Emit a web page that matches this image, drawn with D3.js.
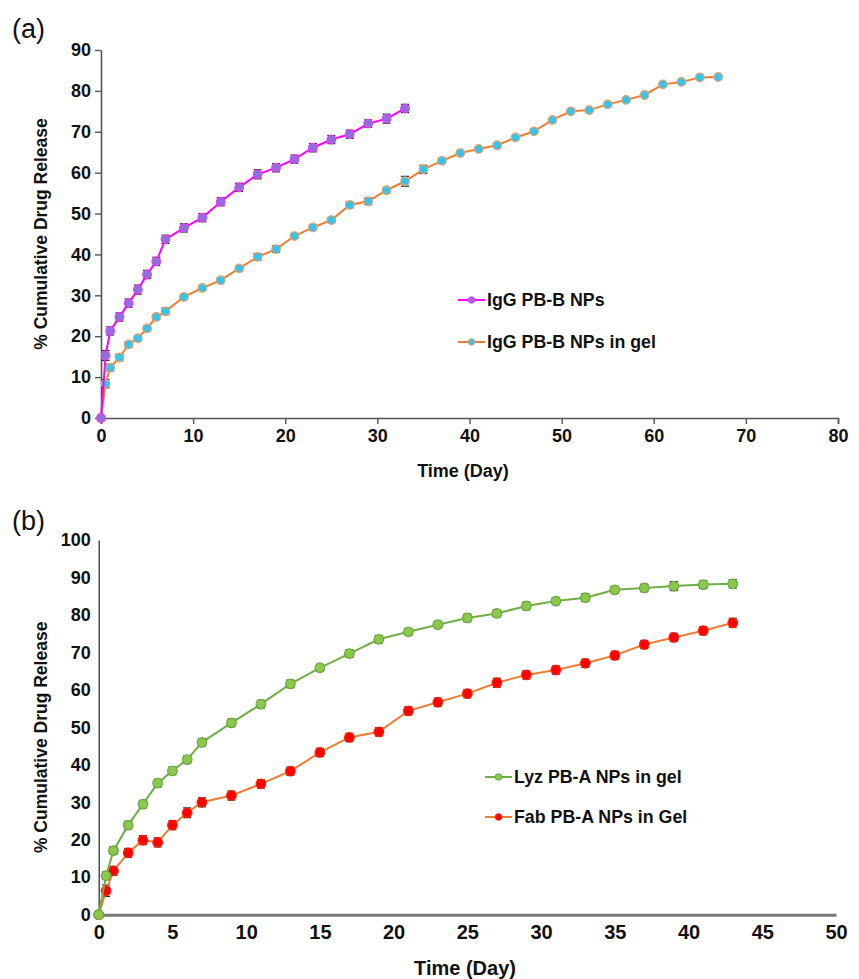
<!DOCTYPE html>
<html>
<head>
<meta charset="utf-8">
<script src="https://cdn.jsdelivr.net/npm/d3@7"></script>
<style>
  body { margin: 0; background: #fff; }
  text { font-family: "Liberation Sans", Arial, sans-serif; }
</style>
</head>
<body>
<svg id="chart" width="859" height="979"></svg>
<script>
// ---- panel (a) data ----
const daysIgG = [0, 0.5, 1, 2, 3, 4, 5, 6, 7, 9, 11, 13, 15, 17, 19, 21, 23, 25, 27, 29, 31, 33]
const igg = [0, 15.3, 21.3, 24.7, 28.1, 31.4, 35.1, 38.3, 43.7, 46.5, 49.0, 52.9, 56.4, 59.6, 61.2, 63.3, 66.1, 68.1, 69.4, 72.0, 73.2, 75.7]
const iggErr = [0, 1.2, 1.0, 1.0, 1.0, 1.1, 1.0, 1.0, 1.0, 1.0, 1.0, 1.0, 1.0, 1.1, 1.0, 1.0, 1.0, 1.0, 1.0, 0.9, 1.1, 1.0]

const daysIgGGel = [0, 0.5, 1, 2, 3, 4, 5, 6, 7, 9, 11, 13, 15, 17, 19, 21, 23, 25, 27, 29, 31, 33, 35, 37, 39, 41, 43, 45, 47, 49, 51, 53, 55, 57, 59, 61, 63, 65, 67]
const iggGel = [0, 8.4, 12.3, 14.8, 18.0, 19.5, 21.9, 24.7, 26.1, 29.6, 31.8, 33.7, 36.6, 39.4, 41.3, 44.5, 46.6, 48.4, 52.1, 53.0, 55.7, 57.9, 60.8, 62.9, 64.8, 65.8, 66.7, 68.6, 70.1, 72.9, 75.0, 75.3, 76.7, 77.8, 79.0, 81.6, 82.2, 83.3, 83.4]
const iggGelErr = [0, 1.0, 0.8, 0.8, 0.7, 0.6, 0.6, 0.6, 0.8, 0.6, 0.5, 0.5, 0.6, 0.8, 0.8, 0.5, 0.6, 0.6, 0.7, 0.8, 0.6, 1.2, 1.0, 0.6, 0.4, 0.4, 0.4, 0.4, 0.3, 0.3, 0.3, 0.3, 0.3, 0.3, 0.3, 0.3, 0.3, 0.3, 0.3]

// ---- panel (b) data ----
const daysB = [0, 0.5, 1, 2, 3, 4, 5, 6, 7, 9, 11, 13, 15, 17, 19, 21, 23, 25, 27, 29, 31, 33, 35, 37, 39, 41, 43]
const lyz = [0, 10.4, 17.1, 23.9, 29.5, 35.1, 38.4, 41.4, 46.0, 51.2, 56.2, 61.6, 65.9, 69.7, 73.5, 75.5, 77.4, 79.2, 80.4, 82.4, 83.7, 84.6, 86.7, 87.2, 87.7, 88.1, 88.3]
const lyzErr = [0, 1.0, 1.0, 1.0, 1.0, 1.0, 1.0, 1.0, 1.0, 1.0, 1.0, 1.0, 0.9, 1.0, 1.0, 0.9, 0.9, 1.0, 0.9, 1.0, 0.9, 1.0, 0.9, 1.0, 1.2, 1.0, 1.1]
const fab = [0, 6.4, 11.7, 16.5, 19.9, 19.3, 23.9, 27.2, 30.0, 31.8, 34.9, 38.3, 43.3, 47.3, 48.8, 54.4, 56.7, 59.0, 61.9, 64.0, 65.3, 67.1, 69.2, 72.1, 74.0, 75.8, 77.9]
const fabErr = [0, 1.5, 1.2, 1.2, 1.2, 1.2, 1.2, 1.3, 1.2, 1.2, 1.1, 1.1, 1.1, 1.1, 1.1, 1.1, 1.1, 1.1, 1.2, 1.1, 1.1, 1.1, 1.1, 1.1, 1.1, 1.1, 1.2]

const ticksA_x = [0, 10, 20, 30, 40, 50, 60, 70, 80]
const ticksA_y = [0, 10, 20, 30, 40, 50, 60, 70, 80, 90]
const ticksB_x = [0, 5, 10, 15, 20, 25, 30, 35, 40, 45, 50]
const ticksB_y = [0, 10, 20, 30, 40, 50, 60, 70, 80, 90, 100]

const svg = d3.select('#chart')
const bold = '"Liberation Sans", Arial, sans-serif'
const narrow = '"Liberation Sans Narrow", "Arial Narrow", sans-serif'

function zip (days, vals, errs) {
  return days.map((d, i) => ({ x: d, y: vals[i], e: errs[i] }))
}

function drawSeries (g, x, y, data, s) {
  const line = d3.line().x(d => x(d.x)).y(d => y(d.y))
  // error bars
  const eb = g.append('g')
  data.filter(d => d.e > 0).forEach(d => {
    eb.append('line')
      .attr('x1', x(d.x)).attr('x2', x(d.x))
      .attr('y1', y(d.y - d.e)).attr('y2', y(d.y + d.e))
      .attr('stroke', '#222').attr('stroke-width', 1.2)
    ;[d.y - d.e, d.y + d.e].forEach(v => {
      eb.append('line')
        .attr('x1', x(d.x) - 4).attr('x2', x(d.x) + 4)
        .attr('y1', y(v)).attr('y2', y(v))
        .attr('stroke', '#222').attr('stroke-width', 1.2)
    })
  })
  g.append('path')
    .datum(data)
    .attr('d', line)
    .attr('fill', 'none')
    .attr('stroke', s.line)
    .attr('stroke-width', 2)
  g.append('g').selectAll('circle')
    .data(data)
    .join('circle')
    .attr('cx', d => x(d.x))
    .attr('cy', d => y(d.y))
    .attr('r', s.r)
    .attr('fill', s.fill)
    .attr('stroke', s.stroke)
    .attr('stroke-width', 1.2)
}

function legendItem (g, lx, ly, label, s) {
  g.append('line')
    .attr('x1', lx).attr('x2', lx + 27).attr('y1', ly).attr('y2', ly)
    .attr('stroke', s.line).attr('stroke-width', 2)
  g.append('circle')
    .attr('cx', lx + 13.5).attr('cy', ly).attr('r', 3.3)
    .attr('fill', s.fill).attr('stroke', s.stroke).attr('stroke-width', 1)
  g.append('text')
    .attr('x', lx + 29).attr('y', ly + 6)
    .attr('font-family', bold).attr('font-weight', 'bold').attr('font-size', 17.8)
    .attr('fill', '#111')
    .text(label)
}

// ================= panel (a) =================
const xA = d3.scaleLinear().domain([0, 80]).range([101, 838])
const yA = d3.scaleLinear().domain([0, 90]).range([418, 50])
const gA = svg.append('g')

const axA_x = gA.append('g')
  .attr('transform', `translate(0,${yA(0)})`)
  .call(d3.axisBottom(xA).tickValues(ticksA_x).tickSize(6).tickSizeOuter(6).tickPadding(5))
const axA_y = gA.append('g')
  .attr('transform', `translate(${xA(0)},0)`)
  .call(d3.axisLeft(yA).tickValues(ticksA_y).tickSize(6).tickSizeOuter(0).tickPadding(4))
;[axA_x, axA_y].forEach(ax => {
  ax.select('.domain').attr('stroke', '#555').attr('stroke-width', 1.6)
  ax.selectAll('.tick line').attr('stroke', '#555').attr('stroke-width', 1.4)
  ax.selectAll('text').attr('font-family', bold).attr('font-weight', 'bold')
    .attr('font-size', 18).attr('fill', '#111')
})

const sIgG = { line: '#ff00ff', fill: '#8f6fe0', stroke: '#e040e8', r: 4.3 }
const sIgGGel = { line: '#ed7d31', fill: '#35c5ea', stroke: '#e8a070', r: 4.3 }
drawSeries(gA, xA, yA, zip(daysIgGGel, iggGel, iggGelErr), sIgGGel)
drawSeries(gA, xA, yA, zip(daysIgG, igg, iggErr), sIgG)

legendItem(gA, 458, 300, 'IgG PB-B NPs', sIgG)
legendItem(gA, 458, 342, 'IgG PB-B NPs in gel', sIgGGel)

gA.append('text')
  .attr('x', 463).attr('y', 477).attr('text-anchor', 'middle')
  .attr('font-family', bold).attr('font-weight', 'bold').attr('font-size', 18).attr('fill', '#111')
  .text('Time (Day)')
gA.append('text')
  .attr('transform', `translate(47,${(yA(0) + yA(90)) / 2}) rotate(-90)`)
  .attr('text-anchor', 'middle')
  .attr('font-family', bold).attr('font-weight', 'bold').attr('font-size', 17.5).attr('fill', '#111')
  .text('% Cumulative Drug Release')
svg.append('text')
  .attr('x', 12).attr('y', 38)
  .attr('font-family', bold).attr('font-size', 27).attr('fill', '#111')
  .text('(a)')

// ================= panel (b) =================
const xB = d3.scaleLinear().domain([0, 50]).range([98.7, 836])
const yB = d3.scaleLinear().domain([0, 100]).range([914.7, 540])
const gB = svg.append('g')

const axB_y = gB.append('g')
  .attr('transform', `translate(${xB(0)},0)`)
  .call(d3.axisLeft(yB).tickValues(ticksB_y).tickSize(0).tickSizeOuter(0).tickPadding(8))
axB_y.select('.domain').attr('stroke', '#222').attr('stroke-width', 1.2)
axB_y.selectAll('text').attr('font-family', bold).attr('font-weight', 'bold')
  .attr('font-size', 18).attr('fill', '#111')

const axB_x = gB.append('g')
  .attr('transform', `translate(0,${yB(0)})`)
  .call(d3.axisBottom(xB).tickValues(ticksB_x).tickSize(0).tickSizeOuter(0).tickPadding(10))
axB_x.select('.domain').attr('stroke', '#7a7a7a').attr('stroke-width', 3)
axB_x.selectAll('text').attr('font-family', narrow).attr('font-weight', 'bold')
  .attr('font-size', 20).attr('fill', '#111')

const sLyz = { line: '#70ad47', fill: '#8cc84b', stroke: '#6aa840', r: 4.8 }
const sFab = { line: '#ed7d31', fill: '#ff0000', stroke: '#ff2000', r: 4.8 }
drawSeries(gB, xB, yB, zip(daysB, fab, fabErr), sFab)
drawSeries(gB, xB, yB, zip(daysB, lyz, lyzErr), sLyz)

legendItem(gB, 485, 777, 'Lyz PB-A NPs in gel', sLyz)
legendItem(gB, 485, 817, 'Fab PB-A NPs in Gel', sFab)

gB.append('text')
  .attr('x', 465).attr('y', 975).attr('text-anchor', 'middle')
  .attr('font-family', narrow).attr('font-weight', 'bold').attr('font-size', 20).attr('fill', '#111')
  .text('Time (Day)')
gB.append('text')
  .attr('transform', `translate(47,${(yB(0) + yB(100)) / 2 + 10}) rotate(-90)`)
  .attr('text-anchor', 'middle')
  .attr('font-family', bold).attr('font-weight', 'bold').attr('font-size', 17.5).attr('fill', '#111')
  .text('% Cumulative Drug Release')
svg.append('text')
  .attr('x', 12).attr('y', 530)
  .attr('font-family', bold).attr('font-size', 27).attr('fill', '#111')
  .text('(b)')
</script>
</body>
</html>
